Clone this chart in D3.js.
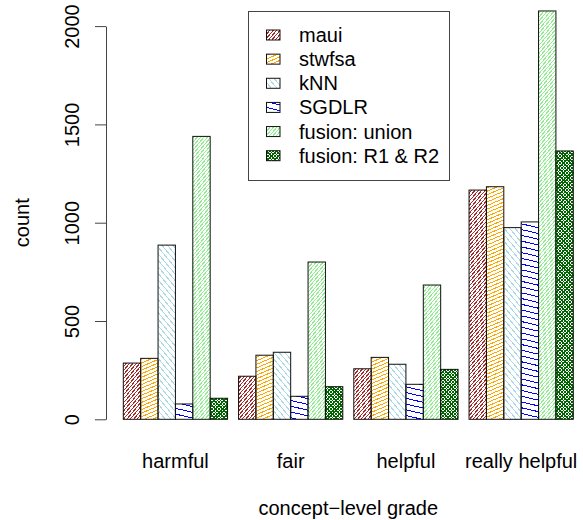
<!DOCTYPE html>
<html>
<head>
<meta charset="utf-8">
<script src="https://cdn.jsdelivr.net/npm/d3@7"></script>
<style>
  html, body { margin: 0; padding: 0; background: #fff; }
  svg { display: block; }
  text { font-family: "Liberation Sans", Arial, sans-serif; fill: #000; }
</style>
</head>
<body>
<svg id="chart" width="583" height="520"></svg>
<script>
const categories = ["harmful", "fair", "helpful", "really helpful"];
const seriesNames = ["maui", "stwfsa", "kNN", "SGDLR", "fusion: union", "fusion: R1 & R2"];
const maui   = [286, 219, 257, 1166];
const stwfsa = [310, 326, 315, 1183];
const kNN    = [886, 341, 280, 975];
const SGDLR  = [78, 117, 178, 1004];
const union  = [1439, 800, 683, 2077];
const r1r2   = [107, 166, 254, 1365];
const yTicks = [0, 500, 1000, 1500, 2000];
const xTitle = "concept\u2212level grade";
const yTitle = "count";

const seriesValues = [maui, stwfsa, kNN, SGDLR, union, r1r2];

// hatch styles (angle in degrees, counter-clockwise from horizontal; spacing perpendicular)
const hatch = [
  {color: "#A52A2A", angles: [50],      spacing: 2.6},
  {color: "#FFA500", angles: [23],      spacing: 3.3},
  {color: "#ADD8E6", angles: [-50],     spacing: 4.2},
  {color: "#0000FF", angles: [-13],     spacing: 5.6},
  {color: "#90EE90", angles: [50],      spacing: 2.6},
  {color: "#006400", angles: [45, -45], spacing: 2.4}
];

const FONT = 20;
const svg = d3.select("#chart");
const defs = svg.append("defs");
let clipId = 0;

function hatchRect(g, x0, y0, w, h, style) {
  if (h <= 0 || w <= 0) return;
  const id = "clip" + (clipId++);
  defs.append("clipPath").attr("id", id)
    .append("rect").attr("x", x0).attr("y", y0).attr("width", w).attr("height", h);
  const hg = g.append("g").attr("clip-path", `url(#${id})`).attr("shape-rendering", "crispEdges");
  style.angles.forEach(a => {
    const t = a * Math.PI / 180;
    const dx = Math.cos(t), dy = -Math.sin(t);     // direction on screen
    const nx = Math.sin(t), ny = Math.cos(t);      // normal
    const corners = [[x0, y0], [x0 + w, y0], [x0, y0 + h], [x0 + w, y0 + h]];
    const cs = corners.map(p => p[0] * nx + p[1] * ny);
    const cmin = Math.min(...cs), cmax = Math.max(...cs);
    const s = style.spacing;
    const L = w + h + 10;
    const cx = x0 + w / 2, cy = y0 + h / 2;
    const cc = cx * nx + cy * ny;
    const lines = d3.range(Math.ceil(cmin / s), Math.floor(cmax / s) + 1).map(k => k * s);
    hg.selectAll(null).data(lines).join("line")
      .attr("x1", c => cx + (c - cc) * nx - L * dx)
      .attr("y1", c => cy + (c - cc) * ny - L * dy)
      .attr("x2", c => cx + (c - cc) * nx + L * dx)
      .attr("y2", c => cy + (c - cc) * ny + L * dy)
      .attr("stroke", style.color)
      .attr("stroke-width", 1);
  });
}

const y = d3.scaleLinear().domain([0, 2000]).range([419.3, 26.1]);
const xGroup = d3.scaleBand().domain(categories).range([123.3, 573.3]).paddingInner(0.0954).paddingOuter(0);
const xSeries = d3.scaleBand().domain(seriesNames).range([0, xGroup.bandwidth()]).padding(0);

const rows = [];
categories.forEach((c, ci) => {
  seriesNames.forEach((s, si) => {
    rows.push({cat: c, series: s, si: si, value: seriesValues[si][ci]});
  });
});

const bars = svg.append("g").selectAll("g.bar").data(rows).join("g").attr("class", "bar");
bars.each(function(d) {
  const g = d3.select(this);
  const x0 = xGroup(d.cat) + xSeries(d.series);
  const w = xSeries.bandwidth();
  const y0 = y(d.value);
  const hgt = y(0) - y(d.value);
  hatchRect(g, x0, y0, w, hgt, hatch[d.si]);
  g.append("rect")
    .attr("x", x0).attr("y", y0).attr("width", w).attr("height", hgt)
    .attr("fill", "none").attr("stroke", "#111").attr("stroke-width", 1);
});

// y axis
const yAxis = d3.axisLeft(y).tickValues(yTicks).tickFormat(d3.format("d"))
  .tickSize(11).tickSizeOuter(0).tickPadding(0);
const gy = svg.append("g").attr("transform", "translate(106,0)").call(yAxis);
gy.select(".domain").attr("stroke", "#444");
gy.selectAll(".tick line").attr("stroke", "#444");
gy.selectAll(".tick text")
  .attr("x", null).attr("dy", null)
  .attr("text-anchor", "middle")
  .attr("font-size", FONT)
  .attr("font-family", "Liberation Sans, Arial, sans-serif")
  .attr("fill", "#000")
  .attr("transform", "translate(-27,0) rotate(-90)")
  .attr("y", 0);

svg.append("text")
  .attr("transform", `translate(29,${(y(0) + y(2000)) / 2}) rotate(-90)`)
  .attr("text-anchor", "middle")
  .attr("font-size", FONT)
  .text(yTitle);

// category labels
const xAxis = d3.axisBottom(xGroup).tickSize(0).tickPadding(0);
const gx = svg.append("g").attr("transform", "translate(0,467.5)").call(xAxis);
gx.select(".domain").remove();
gx.selectAll(".tick text")
  .attr("dy", null).attr("y", 0)
  .attr("font-size", FONT)
  .attr("font-family", "Liberation Sans, Arial, sans-serif")
  .attr("fill", "#000");

svg.append("text")
  .attr("x", (123.3 + 573.3) / 2)
  .attr("y", 515)
  .attr("text-anchor", "middle")
  .attr("font-size", FONT)
  .text(xTitle);

// legend
const legend = svg.append("g");
legend.append("rect")
  .attr("x", 248.5).attr("y", 11.5).attr("width", 201).attr("height", 169)
  .attr("fill", "#fff").attr("stroke", "#444").attr("stroke-width", 1);
const legendY = d3.scalePoint().domain(seriesNames).range([35, 155.7]);
seriesNames.forEach((s, i) => {
  const cy = legendY(s);
  hatchRect(legend, 266.5, cy - 5, 13.5, 10, hatch[i]);
  legend.append("rect")
    .attr("x", 266.5).attr("y", cy - 5).attr("width", 13.5).attr("height", 10)
    .attr("fill", "none").attr("stroke", "#111").attr("stroke-width", 1);
  legend.append("text")
    .attr("x", 299).attr("y", cy + 7)
    .attr("font-size", FONT)
    .text(s);
});
</script>
</body>
</html>
